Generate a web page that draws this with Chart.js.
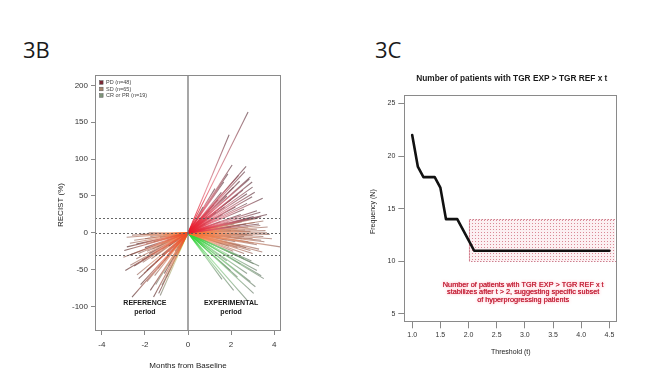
<!DOCTYPE html>
<html><head><meta charset="utf-8">
<script src="https://cdn.jsdelivr.net/npm/chart.js@4.4.1/dist/chart.umd.min.js"></script>
<style>
html,body{margin:0;padding:0;background:#fff;width:663px;height:379px;overflow:hidden;}
#c1{position:absolute;left:0;top:0;}
#c2{position:absolute;left:330px;top:0;}
.lab{position:absolute;font-family:"Open Sans","Liberation Sans",sans-serif;font-size:22px;color:#1a1a1a;line-height:1;}
</style></head><body>
<div class="lab" style="left:23px;top:38px">3B</div>
<div class="lab" style="left:375px;top:38px">3C</div>
<canvas id="c1" width="330" height="379"></canvas>
<canvas id="c2" width="333" height="379"></canvas>
<script>
// ---------- DATA: panel 3B (end points of each patient's segment from baseline [0,0]) ----------
const pdExp = [[2.79,164],[1.91,133],[2.70,90],[2.64,83],[2.90,76],[2.98,69],[3.00,62],[2.74,53],[2.98,49],[3.47,47],
 [2.12,62],[1.66,69],[2.74,40],[3.36,28],[3.67,25],[3.05,22],[1.40,45],[1.20,38],[2.40,70],[2.55,58],
 [1.80,50],[1.00,30],[2.20,35],[2.85,73],[1.55,55],[2.00,45],[3.10,55],[2.30,52],[1.30,28],[2.60,32],
 [0.90,22],[1.70,35],[3.20,30],[2.90,20],[1.10,18],[2.45,25],[3.40,22],[1.85,80],[2.05,92],[1.50,15],
 [0.80,12],[2.70,12],[3.30,12],[2.00,8],[1.60,25],[0.70,35],[1.25,60],[2.35,78]];
const sdExp = [[3.36,10],[3.67,0],[3.80,-2],[4.29,-19],[3.50,-5],[3.05,-14],[2.90,-24],[2.43,-17],[3.20,5],[2.80,8],
 [2.60,-5],[3.00,-8],[2.20,-12],[2.00,3],[1.80,-10],[3.40,-10],[2.50,15],[3.10,14],[1.50,-6],[2.70,-20],
 [3.30,-22],[1.90,-18],[2.30,6],[3.60,3],[1.20,-4],[2.90,2],[3.50,16],[2.10,-25],[2.60,-28],[1.70,5],
 [3.20,-16],[3.90,-8],[2.40,10],[1.40,8],[3.00,-28],[2.80,-12],[2.00,-5],[3.70,8],[1.00,2],[2.50,-8],
 [3.45,-26],[2.15,12],[3.25,20],[2.75,-2],[1.60,-15],[3.00,-3],[2.30,-20],[1.85,14],[3.55,-12],[2.65,4]];
const crExp = [[3.52,-62],[3.20,-51],[3.13,-73],[3.05,-82],[2.74,-91],[2.12,-78],[1.58,-63],[1.97,-51],[2.43,-42],[3.05,-42],
 [2.74,-55],[2.90,-66],[2.30,-60],[3.30,-45],[1.80,-38],[2.60,-35],[3.40,-58],[2.20,-30],[2.95,-38]];
const pdRef = [[-2.96,-24],[-2.91,-51],[-2.29,-62],[-2.60,-87],[-1.36,-82],[-2.14,-37],[-1.91,-51],[-2.50,-45],[-2.70,-30],[-1.60,-87],
 [-1.75,-78],[-2.00,-20],[-2.40,-15],[-1.50,-40],[-1.20,-30],[-0.90,-18],[-2.20,-70],[-2.84,-19],[-1.10,-55],[-1.80,-28]];
const sdRef = [[-2.22,-2],[-1.83,0],[-1.44,-19],[-2.00,-8],[-1.60,-12],[-1.30,-6],[-1.00,-10],[-0.80,-5],[-2.50,-10],[-2.70,-14],
 [-1.90,-25],[-1.20,-22],[-0.60,-12],[-1.50,-30],[-2.30,-28],[-0.90,-26],[-1.70,-35],[-2.10,-40],[-1.40,-48],[-0.70,-20],
 [-1.10,-38],[-2.60,-3],[-1.75,-5],[-0.50,-8],[-1.25,-15],[-2.40,-35],[-1.95,-15],[-0.95,-30],[-1.55,-58],[-2.05,-55],
 [-3.00,-33],[-2.68,-44],[-2.37,-57],[-1.91,-66],[-2.85,-6],[-1.15,-3],[-1.65,-22],[-0.85,-14]];
const crRef = [[-1.29,-85],[-1.21,-71],[-0.90,-45],[-0.70,-35],[-1.00,-60],[-0.60,-25],[-1.50,-70],[-0.50,-20]];
const legendLabelsB = ['PD (n=48)','SD (n=65)','CR or PR (n=19)'];
const xTicksB = [-4,-2,0,2,4];
const xTickLabelsB = ['-4','-2','0','2','4'];
const yTicksB = [-100,-50,0,50,100,150,200];
const yTickLabelsB = ['-100','-50','0','50','100','150','200'];
const hLinesB = [20,0,-30];

// ---------- DATA: panel 3C ----------
const thresholds = [1.0,1.1,1.2,1.3,1.4,1.5,1.6,1.7,1.8,1.9,2.0,2.1,2.2,2.3,2.4,2.5,2.6,2.7,2.8,2.9,3.0,3.1,3.2,3.3,3.4,3.5,3.6,3.7,3.8,3.9,4.0,4.1,4.2,4.3,4.4,4.5];
const frequency  = [22,19,18,18,18,17,14,14,14,13,12,11,11,11,11,11,11,11,11,11,11,11,11,11,11,11,11,11,11,11,11,11,11,11,11,11];
const xTicksC = [1.0,1.5,2.0,2.5,3.0,3.5,4.0,4.5];
const xTickLabelsC = ['1.0','1.5','2.0','2.5','3.0','3.5','4.0','4.5'];
const yTicksC = [5,10,15,20,25];
const yTickLabelsC = ['5','10','15','20','25'];
const stableX = [2.0,4.6];
const stableY = [10,14];

// ---------- styles ----------
const FONT = '"Liberation Sans", Arial, sans-serif';
const STOPS = {
  pd: [[0,'rgba(235,20,35,0.95)'],[0.45,'rgba(222,90,108,0.62)'],[1,'rgba(112,78,86,0.78)']],
  pdRef: [[0,'rgba(242,75,30,0.95)'],[0.45,'rgba(228,110,85,0.62)'],[1,'rgba(108,72,72,0.8)']],
  sd: [[0,'rgba(246,105,35,0.95)'],[0.45,'rgba(240,140,95,0.62)'],[1,'rgba(150,104,94,0.7)']],
  cr: [[0,'rgba(35,215,45,0.95)'],[0.45,'rgba(120,205,120,0.6)'],[1,'rgba(112,128,112,0.72)']],
  crRef: [[0,'rgba(200,215,40,0.95)'],[0.45,'rgba(190,190,110,0.6)'],[1,'rgba(120,120,110,0.72)']]
};
const LEG_FILL = ['#7b2733','#a8866f','#7d9479'];

function gradFor(ex, ey, stops){
  return function(ctx){
    const ch = ctx.chart, xs = ch.scales.x, ys = ch.scales.y;
    if(!ch.chartArea || !xs || !ys) return stops[0][1];
    const x0 = xs.getPixelForValue(0), y0 = ys.getPixelForValue(0);
    const x1 = xs.getPixelForValue(ex), y1 = ys.getPixelForValue(ey);
    if(![x0,y0,x1,y1].every(isFinite)) return stops[0][1];
    const g = ch.ctx.createLinearGradient(x0,y0,x1,y1);
    stops.forEach(s=>g.addColorStop(s[0], s[1]));
    return g;
  };
}
function segs(arr, stops){
  return arr.map(p=>({
    data:[{x:0,y:0},{x:p[0],y:p[1]}],
    showLine:true, borderWidth:1.1, pointRadius:0, fill:false, tension:0,
    borderColor: gradFor(p[0], p[1], stops)
  }));
}
const datasetsB = [].concat(
  segs(pdExp, STOPS.pd), segs(pdRef, STOPS.pdRef),
  segs(sdExp, STOPS.sd), segs(sdRef, STOPS.sd),
  segs(crExp, STOPS.cr), segs(crRef, STOPS.crRef)
);

function tickAxis(ticksArr, labelsArr, fontSize, tickLen, pad, fitKey, fitVal){
  return {
    type:'linear',
    afterBuildTicks: s => { s.ticks = ticksArr.map(v=>({value:v})); },
    afterFit: s => { s[fitKey] = fitVal; },
    ticks:{ autoSkip:false, maxRotation:0, minRotation:0, padding:pad, color:'#333',
      font:{family:FONT,size:fontSize},
      callback:(v,i)=>labelsArr[i] },
    grid:{ drawOnChartArea:false, drawTicks:true, tickLength:tickLen, color:'#888', tickColor:'#888', tickWidth:1 },
    border:{ display:false }
  };
}

const decorB = {
  id:'decorB',
  afterDatasetsDraw(chart){
    const c = chart.ctx, a = chart.chartArea, xs = chart.scales.x, ys = chart.scales.y;
    c.save();
    c.strokeStyle = '#555'; c.lineWidth = 0.9; c.setLineDash([2,2]);
    hLinesB.forEach(v=>{ const y = Math.round(ys.getPixelForValue(v))+0.5; c.beginPath(); c.moveTo(a.left,y); c.lineTo(a.right,y); c.stroke(); });
    c.setLineDash([]);
    const x0 = xs.getPixelForValue(0);
    c.strokeStyle = '#777'; c.lineWidth = 1.3;
    c.beginPath(); c.moveTo(x0,a.top); c.lineTo(x0,a.bottom); c.stroke();
    c.strokeStyle = '#8a8a8a'; c.lineWidth = 1;
    c.strokeRect(Math.round(a.left)+0.5, Math.round(a.top)+0.5, Math.round(a.right-a.left)-1, Math.round(a.bottom-a.top)-1);
    c.font = '5.5px '+FONT; c.textBaseline='middle'; c.textAlign='left';
    legendLabelsB.forEach((t,i)=>{
      const yy = a.top + 7.5 + i*6.5;
      c.fillStyle = LEG_FILL[i]; c.fillRect(a.left+4.5, yy-1.8, 3.6, 3.6);
      c.strokeStyle = '#555'; c.lineWidth = 0.5; c.strokeRect(a.left+4.5, yy-1.8, 3.6, 3.6);
      c.fillStyle = '#444'; c.fillText(t, a.left+11, yy);
    });
    c.fillStyle = '#1a1a1a'; c.textAlign='center';
    c.font = 'bold 7px '+FONT;
    c.fillText('REFERENCE', xs.getPixelForValue(-2.0), ys.getPixelForValue(-95.5));
    c.fillText('period', xs.getPixelForValue(-2.0), ys.getPixelForValue(-107));
    c.fillText('EXPERIMENTAL', xs.getPixelForValue(2.0), ys.getPixelForValue(-95.5));
    c.fillText('period', xs.getPixelForValue(2.0), ys.getPixelForValue(-107));
    c.restore();
  },
  afterDraw(chart){
    const c = chart.ctx, a = chart.chartArea;
    c.save();
    c.fillStyle = '#222'; c.font = '8px '+FONT; c.textAlign='center'; c.textBaseline='middle';
    c.fillText('Months from Baseline', (a.left+a.right)/2, 366);
    c.translate(61, (a.top+a.bottom)/2+2); c.rotate(-Math.PI/2);
    c.fillText('RECIST (%)', 0, 0);
    c.restore();
  }
};

new Chart(document.getElementById('c1'), {
  type:'scatter',
  data:{ datasets: datasetsB },
  options:{
    responsive:false, animation:false, devicePixelRatio:1,
    layout:{ padding:{ left:0, top:75, right:49, bottom:0 } },
    plugins:{ legend:{display:false}, tooltip:{enabled:false} },
    scales:{
      x: Object.assign(tickAxis(xTicksB, xTickLabelsB, 8, 4, 5, 'height', 48), {min:-4.32, max:4.32}),
      y: Object.assign(tickAxis(yTicksB, yTickLabelsB, 8, 4, 3, 'width', 95), {min:-133, max:214})
    }
  },
  plugins:[decorB]
});

// ---------- panel 3C ----------
const pc = document.createElement('canvas'); pc.width = 3; pc.height = 3;
const pctx = pc.getContext('2d');
pctx.fillStyle = 'rgba(252,240,242,1)'; pctx.fillRect(0,0,3,3);
pctx.fillStyle = 'rgba(212,120,135,0.85)'; pctx.fillRect(1,1,1,1);

const decorC = {
  id:'decorC',
  beforeDatasetsDraw(chart){
    const c = chart.ctx, xs = chart.scales.x, ys = chart.scales.y;
    const x0 = xs.getPixelForValue(stableX[0]), x1 = xs.getPixelForValue(stableX[1]);
    const y0 = ys.getPixelForValue(stableY[1]), y1 = ys.getPixelForValue(stableY[0]);
    c.save();
    c.fillStyle = c.createPattern(pc,'repeat');
    c.fillRect(x0,y0,x1-x0,y1-y0);
    c.strokeStyle = 'rgba(185,70,90,0.85)'; c.lineWidth = 0.8; c.setLineDash([1.5,1.5]);
    c.strokeRect(Math.round(x0)+0.5, Math.round(y0)+0.5, Math.round(x1-x0), Math.round(y1-y0));
    c.restore();
  },
  afterDraw(chart){
    const c = chart.ctx, a = chart.chartArea, xs = chart.scales.x;
    c.save();
    c.strokeStyle = '#8a8a8a'; c.lineWidth = 1;
    c.strokeRect(Math.round(a.left)+0.5, Math.round(a.top)+0.5, Math.round(a.right-a.left)-1, Math.round(a.bottom-a.top)-1);
    c.textAlign='center'; c.textBaseline='middle';
    c.fillStyle = '#1a1a1a'; c.font = 'bold 8.3px '+FONT;
    c.fillText('Number of patients with TGR EXP > TGR REF x t', (a.left+a.right)/2+1, 78.5);
    c.fillStyle = '#222'; c.font = '7px '+FONT;
    c.fillText('Threshold (t)', (a.left+a.right)/2, 352);
    const lines = ['Number of patients with TGR EXP > TGR REF x t','stabilizes after t > 2, suggesting specific subset','of hyperprogressing patients'];
    const ax = xs.getPixelForValue(2.97);
    c.font = '7.3px '+FONT;
    lines.forEach((t,i)=>{
      const yy = 285 + i*7.3;
      c.shadowColor = 'rgba(255,110,135,0.9)'; c.shadowBlur = 3;
      c.fillStyle = '#c4283d'; c.fillText(t, ax, yy);
      c.shadowBlur = 0; c.fillText(t, ax, yy);
    });
    c.shadowBlur = 0;
    c.fillStyle = '#222'; c.font = '7px '+FONT;
    c.translate(43.5, (a.top+a.bottom)/2+3); c.rotate(-Math.PI/2);
    c.fillText('Frequency (N)', 0, 0);
    c.restore();
  }
};

new Chart(document.getElementById('c2'), {
  type:'scatter',
  data:{ datasets:[{
    data: thresholds.map((t,i)=>({x:t, y:frequency[i]})),
    showLine:true, borderColor:'#111', borderWidth:2.6, pointRadius:0, tension:0,
    borderCapStyle:'round', borderJoinStyle:'round', fill:false
  }]},
  options:{
    responsive:false, animation:false, devicePixelRatio:1,
    layout:{ padding:{ left:0, top:95, right:45.7, bottom:0 } },
    plugins:{ legend:{display:false}, tooltip:{enabled:false} },
    scales:{
      x: Object.assign(tickAxis(xTicksC, xTickLabelsC, 7, 6, 2.5, 'height', 56.7), {min:0.86, max:4.64}),
      y: Object.assign(tickAxis(yTicksC, yTickLabelsC, 7, 6, 3, 'width', 74.3), {min:4.2, max:25.8})
    }
  },
  plugins:[decorC]
});
</script></body></html>
